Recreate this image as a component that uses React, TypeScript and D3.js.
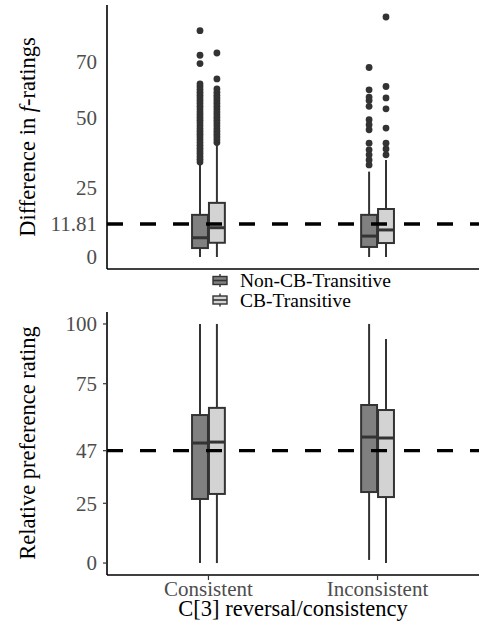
// Two stacked box plots (f-rating difference, relative preference) split by
// C[3] reversal/consistency and CB-transitivity, with dashed reference lines.
import React from 'react';
import * as d3 from 'd3';

const W = 479;
const H = 624;

const categories = ['Consistent', 'Inconsistent'];
const groups = ['Non-CB-Transitive', 'CB-Transitive'];
const groupFill = ['#808080', '#d3d3d3'];

// [lower whisker, q1, median, q3, upper whisker] per category
const fDiffNonCB = [
  [0, 3.2, 6.9, 15.1, 33.7],
  [0, 3.6, 7.5, 15.1, 30.6],
];
const fDiffCB = [
  [0, 5.1, 10.5, 19.4, 40.2],
  [0, 5.0, 9.7, 17.2, 34.8],
];
const fDiffOutNonCB = [
  [34, 35, 36, 37, 38, 39, 40, 41, 42, 43, 44, 45, 46, 47, 48, 49, 50, 51, 52, 53, 54, 55,
   56, 57, 58, 59, 60, 61, 62, 69.3, 72.3, 81.1],
  [33.0, 34.8, 36.6, 38.4, 40.8, 45.6, 47.4, 49.2, 54.0, 56.1, 57.3, 59.9, 67.9],
];
const fDiffOutCB = [
  [41, 42, 43, 44, 45, 46, 47, 48, 49, 50, 51, 52, 53, 54, 55, 56, 57, 58, 59, 60.2,
   63.8, 73.1],
  [36.6, 38.7, 40.8, 46.2, 53.1, 57.0, 61.1, 86.0],
];
const fDiffTicks = [0, 11.81, 25, 50, 70];
const fDiffRef = 11.81;

const prefNonCB = [
  [0, 26.8, 50.2, 61.9, 100],
  [1.3, 29.7, 52.7, 66.1, 100],
];
const prefCB = [
  [0, 28.9, 50.6, 64.9, 100],
  [0, 27.6, 52.3, 64.0, 93.7],
];
const prefTicks = [0, 25, 47, 75, 100];
const prefRef = 47;

const FONT = '"Liberation Serif", "Times New Roman", serif';
const INK = '#333333';
const TICK_COL = '#4d4d4d';

const LEFT = 107;
const RIGHT = 479;

const x = d3.scalePoint<string>().domain(categories).range([LEFT, RIGHT]).padding(0.6);
const dodge = d3
  .scaleBand<string>()
  .domain(groups)
  .range([-0.1 * x.step(), 0.1 * x.step()]);

type PanelProps = {
  top: number;
  bottom: number;
  domain: [number, number];
  stats: number[][][];
  outliers?: number[][][];
  ticks: number[];
  refValue: number;
  showYTicks: boolean;
  showX: boolean;
};

const Panel = ({ top, bottom, domain, stats, outliers, ticks, refValue, showYTicks, showX }: PanelProps) => {
  const y = d3.scaleLinear().domain(domain).range([bottom, top]);
  const bw = dodge.bandwidth() - 1;
  return (
    <g>
      {groups.map((g, gi) =>
        categories.map((c, ci) => {
          const [lo, q1, med, q3, hi] = stats[gi][ci];
          const cx = (x(c) ?? 0) + (dodge(g) ?? 0) + dodge.bandwidth() / 2;
          const pts = outliers ? outliers[gi][ci] : [];
          return (
            <g key={g + c}>
              <line x1={cx} x2={cx} y1={y(lo)} y2={y(q1)} stroke={INK} strokeWidth={2} />
              <line x1={cx} x2={cx} y1={y(q3)} y2={y(hi)} stroke={INK} strokeWidth={2} />
              <rect
                x={cx - bw / 2}
                y={y(q3)}
                width={bw}
                height={y(q1) - y(q3)}
                fill={groupFill[gi]}
                stroke={INK}
                strokeWidth={2}
              />
              <line x1={cx - bw / 2} x2={cx + bw / 2} y1={y(med)} y2={y(med)} stroke={INK} strokeWidth={3} />
              {pts.map((v, i) => (
                <circle key={i} cx={cx} cy={y(v)} r={3.4} fill={INK} />
              ))}
            </g>
          );
        }),
      )}
      <line
        x1={LEFT}
        x2={RIGHT}
        y1={y(refValue)}
        y2={y(refValue)}
        stroke="#000"
        strokeWidth={3.4}
        strokeDasharray="16 17"
      />
      {/* axes */}
      <line x1={LEFT} x2={LEFT} y1={top} y2={bottom} stroke="#000" strokeWidth={1.6} />
      <line x1={LEFT} x2={RIGHT} y1={bottom} y2={bottom} stroke="#000" strokeWidth={1.6} />
      {ticks.map((t) => (
        <g key={t}>
          {showYTicks && <line x1={LEFT - 4} x2={LEFT} y1={y(t)} y2={y(t)} stroke={INK} strokeWidth={1.2} />}
          <text
            x={97}
            y={y(t)}
            dy="0.35em"
            textAnchor="end"
            fontFamily={FONT}
            fontSize={21}
            fill={TICK_COL}
          >
            {String(t)}
          </text>
        </g>
      ))}
      {showX &&
        categories.map((c) => (
          <g key={c}>
            <line x1={x(c)} x2={x(c)} y1={bottom} y2={bottom + 5} stroke={INK} strokeWidth={1.2} />
            <text
              x={x(c)}
              y={bottom + 21}
              textAnchor="middle"
              fontFamily={FONT}
              fontSize={21}
              fill={TICK_COL}
            >
              {c}
            </text>
          </g>
        ))}
    </g>
  );
};

const LegendKey = ({ cy, fill }: { cy: number; fill: string }) => {
  const cx = 220;
  return (
    <g>
      <line x1={cx} x2={cx} y1={cy - 6.5} y2={cy + 6.5} stroke={INK} strokeWidth={1.4} />
      <rect x={cx - 7} y={cy - 4} width={14} height={8} fill={fill} stroke={INK} strokeWidth={1.4} />
      <line x1={cx - 7} x2={cx + 7} y1={cy} y2={cy} stroke={INK} strokeWidth={1.6} />
    </g>
  );
};

export default function App() {
  return (
    <svg
      width={W}
      height={H}
      style={{ position: 'absolute', left: 0, top: 0, background: '#fff' }}
    >
      <rect width={W} height={H} fill="#fff" />
      <Panel
        top={5}
        bottom={269}
        domain={[-4.3, 90.3]}
        stats={[fDiffNonCB, fDiffCB]}
        outliers={[fDiffOutNonCB, fDiffOutCB]}
        ticks={fDiffTicks}
        refValue={fDiffRef}
        showYTicks={false}
        showX={false}
      />
      <Panel
        top={312}
        bottom={575}
        domain={[-5, 105]}
        stats={[prefNonCB, prefCB]}
        ticks={prefTicks}
        refValue={prefRef}
        showYTicks={true}
        showX={true}
      />

      {/* legend */}
      {groups.map((g, i) => (
        <g key={g}>
          <LegendKey cy={280.5 + i * 19.5} fill={groupFill[i]} />
          <text x={240} y={280.5 + i * 19.5} dy="0.35em" fontFamily={FONT} fontSize={19.5} fill="#000">
            {g}
          </text>
        </g>
      ))}

      {/* axis titles */}
      <text
        transform="translate(35,137) rotate(-90)"
        textAnchor="middle"
        fontFamily={FONT}
        fontSize={22.5}
        fill="#000"
      >
        Difference in <tspan fontStyle="italic">f</tspan>-ratings
      </text>
      <text
        transform="translate(35,443) rotate(-90)"
        textAnchor="middle"
        fontFamily={FONT}
        fontSize={22.5}
        fill="#000"
      >
        Relative preference rating
      </text>
      <text x={293} y={615.5} textAnchor="middle" fontFamily={FONT} fontSize={22.5} fill="#000">
        C[3] reversal/consistency
      </text>
    </svg>
  );
}
